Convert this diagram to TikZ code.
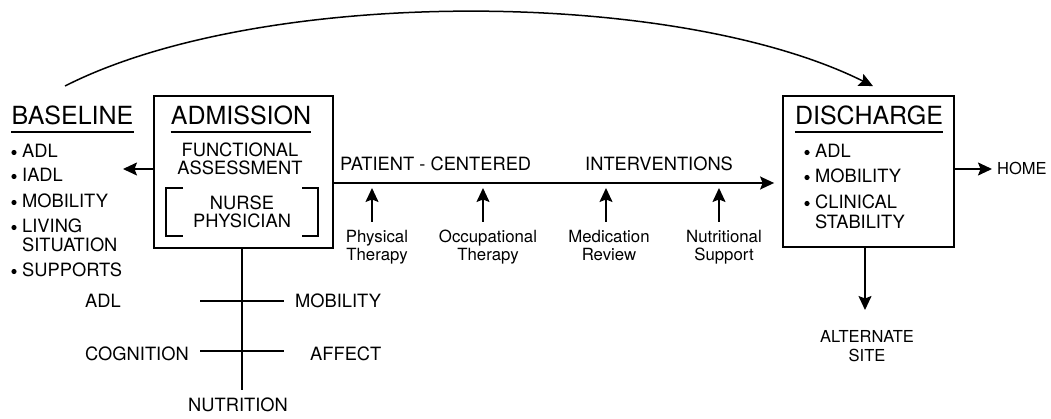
\documentclass[tikz,border=0pt]{standalone}
\usepackage{fontspec}
\setmainfont{TeX Gyre Heros}
\usetikzlibrary{arrows.meta}
\begin{document}
\begin{tikzpicture}[x=1pt,y=-1pt,
  box/.style={draw, line width=1.8pt, inner sep=0pt},
  head/.style={font=\fontsize{25}{28}\selectfont, inner sep=0pt, anchor=base},
  txt/.style={font=\fontsize{18.3}{18}\selectfont, inner sep=0pt},
  lbl/.style={font=\fontsize{16.8}{18}\selectfont, inner sep=0pt, anchor=base},
  outtxt/.style={font=\fontsize{16.5}{18}\selectfont, inner sep=0pt},
  dot/.style={circle, fill, inner sep=0pt, minimum size=5.2pt},
  arr/.style={line width=1.6pt, -{Stealth[length=14pt,width=13pt,inset=2.5pt]}},
  rule/.style={line width=2pt},
  thin/.style={line width=1.4pt}]
\useasboundingbox (0,0) rectangle (1051,419);

% the two boxes
\node[box, minimum width=179pt, minimum height=152pt] (adm) at (243.5,172) {};
\node[box, minimum width=171pt, minimum height=151pt] (dis) at (868.5,171.5) {};

% headings with their rules
\node[head] (blh) at (72.5,125) {BASELINE};
\node[head] (admh) at (241,125) {ADMISSION};
\node[head] (dish) at (869,125) {DISCHARGE};
\foreach \h in {blh,admh,dish}
  \draw[rule] ([yshift=-7pt]\h.base west) -- ([yshift=-7pt]\h.base east);

% admission contents
\node[txt, anchor=base] (fa1) at (240,157) {FUNCTIONAL};
\node[txt, anchor=base] (fa2) at (240,175) {ASSESSMENT};
\node[txt, anchor=base] (np1) at (242,210) {NURSE};
\node[txt, anchor=base] (np2) at (242,227.5) {PHYSICIAN};
\draw[thin] (183,188) -| (166,236) -- (183,236);
\draw[thin] (302,188) -| (318,236) -- (302,236);

% baseline list
\foreach \y/\n in {158/b1,182/b2,208/b3,233/b4,277/b6}
  \node[dot] (\n dot) at (14,\y-5.5) {};
\node[txt, anchor=base west] (b1) at (22,158) {ADL};
\node[txt, anchor=base west] (b2) at (22,182) {IADL};
\node[txt, anchor=base west] (b3) at (22,208) {MOBILITY};
\node[txt, anchor=base west] (b4) at (22,233) {LIVING};
\node[txt, anchor=base west] (b5) at (22,252) {SITUATION};
\node[txt, anchor=base west] (b6) at (22,277) {SUPPORTS};

% discharge list
\foreach \y/\n in {158/d1,183/d2,209/d3}
  \node[dot] (\n dot) at (807,\y-5.5) {};
\node[txt, anchor=base west] (d1) at (815,158) {ADL};
\node[txt, anchor=base west] (d2) at (815,183) {MOBILITY};
\node[txt, anchor=base west] (d3) at (815,209) {CLINICAL};
\node[txt, anchor=base west] (d4) at (815,229) {STABILITY};

% admission -> baseline
\coordinate (blend) at (123,169);
\draw[arr] ([yshift=3pt]adm.west) -- (blend);

% interventions line
\draw[arr, shorten >=8pt] ([yshift=-11pt]adm.east) -- ([yshift=-11.5pt]dis.west);
\node[txt, anchor=base west] (pc) at (340,171) {PATIENT - CENTERED};
\node[txt, anchor=base west] (iv) at (585,171) {INTERVENTIONS};

% contributing interventions
\foreach \x/\n in {372/u1,483/u2,606/u3,719/u4}{
  \coordinate (\n a) at (\x,222);
  \coordinate (\n b) at (\x,188);
  \draw[arr] (\n a) -- (\n b);
}
\node[lbl] (pt1) at (377,243) {Physical};
\node[lbl] (pt2) at (377,261) {Therapy};
\node[lbl] (ot1) at (488,243) {Occupational};
\node[lbl] (ot2) at (488,261) {Therapy};
\node[lbl] (mr1) at (609,243) {Medication};
\node[lbl] (mr2) at (609,261) {Review};
\node[lbl] (ns1) at (724,243) {Nutritional};
\node[lbl] (ns2) at (724,261) {Support};

% discharge outcomes
\coordinate (homeend) at (992,169);
\draw[arr] ([yshift=2.5pt]dis.east) -- (homeend);
\node[outtxt, anchor=base west] (home) at (997,174.5) {HOME};
\coordinate (altend) at (865,310);
\draw[arr] ([xshift=-3.5pt]dis.south) -- (altend);
\node[outtxt, anchor=base] (alt1) at (867,342) {ALTERNATE};
\node[outtxt, anchor=base] (alt2) at (867,361) {SITE};

% assessment domains
\coordinate (treeend) at (242,390);
\draw[line width=1.7pt] ([xshift=-1.5pt]adm.south) -- (treeend);
\draw[thin] (200,301) -- (284,301);
\draw[thin] (200,351) -- (284,351);
\node[txt, anchor=base west] (adl) at (85,308) {ADL};
\node[txt, anchor=base west] (cog) at (85,360) {COGNITION};
\node[txt, anchor=base west] (mob) at (295,308) {MOBILITY};
\node[txt, anchor=base west] (aff) at (310,360) {AFFECT};
\node[txt, anchor=base] (nut) at (238,411) {NUTRITION};

% baseline -> discharge arc
\coordinate (arcstart) at (65,86);
\draw[line width=1.5pt, -{Stealth[length=14pt,width=13pt,inset=2.5pt]}]
  (arcstart) .. controls (262,-14) and (676,-12) .. ([xshift=4.5pt,yshift=9pt]dis.north);
\end{tikzpicture}
\end{document}
